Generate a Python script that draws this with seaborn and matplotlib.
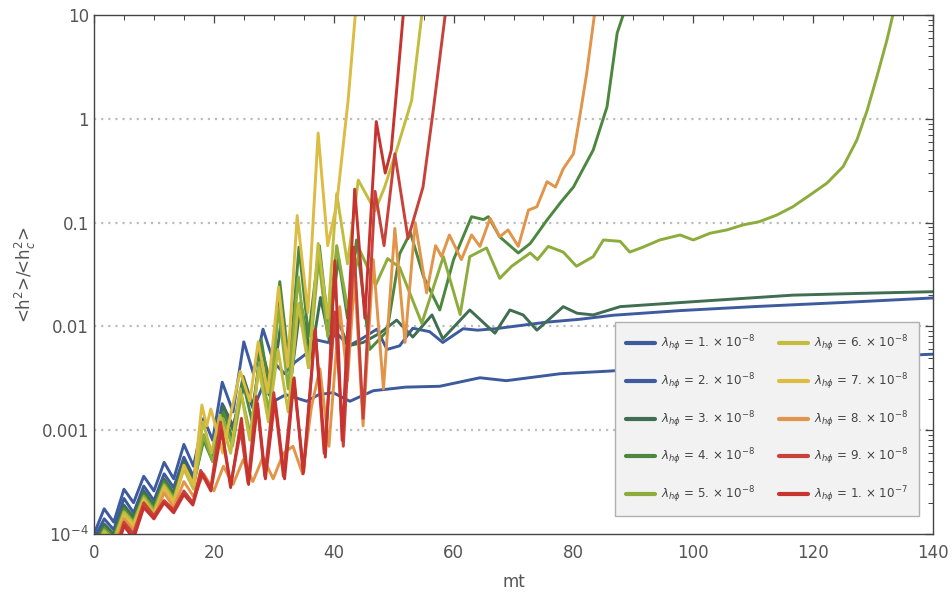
import matplotlib
matplotlib.use("Agg")
import matplotlib.pyplot as plt
import matplotlib.ticker as mticker
import seaborn as sns
import pandas as pd

# ---------------- data ----------------
labels = [r"$\lambda_{h\phi}$ = 1. $\times$ 10$^{-8}$",
          r"$\lambda_{h\phi}$ = 2. $\times$ 10$^{-8}$",
          r"$\lambda_{h\phi}$ = 3. $\times$ 10$^{-8}$",
          r"$\lambda_{h\phi}$ = 4. $\times$ 10$^{-8}$",
          r"$\lambda_{h\phi}$ = 5. $\times$ 10$^{-8}$",
          r"$\lambda_{h\phi}$ = 6. $\times$ 10$^{-8}$",
          r"$\lambda_{h\phi}$ = 7. $\times$ 10$^{-8}$",
          r"$\lambda_{h\phi}$ = 8. $\times$ 10$^{-8}$",
          r"$\lambda_{h\phi}$ = 9. $\times$ 10$^{-8}$",
          r"$\lambda_{h\phi}$ = 1. $\times$ 10$^{-7}$"]

colors = ["#3C5A9C", "#3D5B9E", "#3F6E52", "#4B883D", "#8CAC3B",
          "#C2BD3F", "#DCBC42", "#E29449", "#C8413A", "#C7332E"]

x1 = [0, 1.7, 3.3, 5.0, 6.6, 8.3, 10.0, 11.7, 13.3, 15.0, 16.6, 18.3, 19.8, 21.4, 23.2, 25.0,
      26.6, 28.2, 30.0, 32.0, 35.5, 37.5, 39.9, 42.7, 46.6, 47.7, 52, 57.7, 64.4, 68.8, 77.8,
      85.6, 95, 105, 120, 130, 140]
y1 = [0.9e-4, 1.4e-4, 1.1e-4, 2.2e-4, 1.6e-4, 2.9e-4, 2.1e-4, 3.8e-4, 2.8e-4, 5.5e-4, 3.6e-4,
      9e-4, 6e-4, 1.8e-3, 1.1e-3, 2.6e-3, 1.6e-3, 2.7e-3, 1.9e-3, 2.2e-3, 1.9e-3, 2.2e-3, 2.3e-3,
      1.9e-3, 2.4e-3, 2.44e-3, 2.6e-3, 2.65e-3, 3.2e-3, 3.0e-3, 3.5e-3, 3.7e-3, 4.0e-3, 4.3e-3,
      4.8e-3, 5.1e-3, 5.4e-3]

x2 = [0, 1.7, 3.3, 5.0, 6.6, 8.3, 10.0, 11.7, 13.3, 15.0, 16.6, 18.3, 19.8, 21.4, 23.2, 25.0,
      26.6, 28.2, 30.0, 31.8, 33.5, 35.5, 37.2, 39.0, 40.5, 42.5, 44.5, 47.2, 48.9, 51.0, 53.2,
      56.0, 58.2, 61.6, 64.0, 67.0, 70.0, 75.6, 81.0, 86.6, 97.8, 110, 125, 140]
y2 = [1.0e-4, 1.75e-4, 1.3e-4, 2.7e-4, 2.0e-4, 3.6e-4, 2.6e-4, 4.9e-4, 3.4e-4, 7.3e-4, 4.5e-4,
      1.3e-3, 8e-4, 2.9e-3, 1.5e-3, 7.1e-3, 3.5e-3, 9.4e-3, 4.5e-3, 3.5e-3, 4.5e-3, 5.5e-3,
      7.4e-3, 7.0e-3, 8.6e-3, 6.5e-3, 7.5e-3, 9.4e-3, 6.0e-3, 6.5e-3, 9.6e-3, 8.9e-3, 7.0e-3,
      9.5e-3, 9.2e-3, 9.5e-3, 1.0e-2, 1.1e-2, 1.17e-2, 1.28e-2, 1.42e-2, 1.55e-2, 1.7e-2, 1.88e-2]

x3 = [0, 1.7, 3.3, 5.0, 6.6, 8.3, 10.0, 11.7, 13.3, 15.0, 16.6, 18.3, 19.8, 21.6, 23.2, 24.9,
      26.5, 28.0, 29.7, 31.3, 33.0, 34.5, 36.2, 37.8, 39.4, 40.8, 42.4, 44.9, 47.7, 50.5, 53.2,
      56.4, 58.2, 62.7, 66.9, 69.4, 71.6, 73.9, 78.3, 80.6, 83.3, 87.8, 100, 116.6, 127.8, 140]
y3 = [0.8e-4, 1.25e-4, 1.0e-4, 1.9e-4, 1.45e-4, 2.6e-4, 1.9e-4, 3.4e-4, 2.5e-4, 5.0e-4, 3.2e-4,
      8.5e-4, 5.5e-4, 1.7e-3, 1.0e-3, 3.3e-3, 1.7e-3, 6e-3, 2.5e-3, 1.2e-2, 3.5e-3, 1.7e-2, 5e-3,
      1.9e-2, 6.8e-3, 1.1e-2, 6.5e-3, 7e-3, 8.6e-3, 1.15e-2, 7.9e-3, 1.29e-2, 7.6e-3, 1.44e-2,
      8.6e-3, 1.44e-2, 1.29e-2, 9.2e-3, 1.55e-2, 1.34e-2, 1.29e-2, 1.55e-2, 1.73e-2, 2.0e-2,
      2.08e-2, 2.16e-2]

x4 = [0, 1.7, 3.3, 5.0, 6.6, 8.3, 10.0, 11.7, 13.3, 15.0, 16.6, 18.3, 19.8, 21.6, 23.2, 24.8,
      26.4, 27.9, 29.5, 31.0, 32.6, 34.2, 35.8, 37.6, 39.2, 40.8, 42.3, 43.8, 46.0, 48.9, 51.0,
      52.8, 55.0, 57.7, 60.0, 63.0, 65.0, 65.8, 67.7, 70.8, 72.8, 75.6, 78.0, 80.0, 83.3, 85.6,
      87.3, 88.3]
y4 = [0.75e-4, 1.15e-4, 0.95e-4, 1.75e-4, 1.35e-4, 2.4e-4, 1.8e-4, 3.2e-4, 2.3e-4, 4.6e-4,
      3.0e-4, 8e-4, 5e-4, 1.5e-3, 8e-4, 3e-3, 1.2e-3, 7.5e-3, 2e-3, 2.7e-2, 4e-3, 5.8e-2, 8e-3,
      6e-2, 9e-3, 4.5e-2, 1.2e-2, 6.8e-2, 6e-3, 9e-3, 5e-2, 8e-2, 3e-2, 1.44e-2, 4.4e-2,
      1.14e-1, 1.07e-1, 1.14e-1, 7.3e-2, 5.1e-2, 6.3e-2, 1.06e-1, 1.6e-1, 2.2e-1, 5e-1, 1.3,
      6.7, 10]

x5 = [0, 1.7, 3.3, 5.0, 6.6, 8.3, 10.0, 11.7, 13.3, 15.0, 16.6, 18.3, 19.8, 21.5, 23.1, 24.6,
      26.1, 27.6, 29.2, 30.8, 32.4, 34.1, 35.8, 37.5, 39.0, 40.5, 42.3, 44.3, 47.0, 49.0, 51.0,
      54.7, 58.3, 61.1, 62.7, 65.5, 67.7, 69.7, 72.8, 74.0, 75.8, 78.3, 80.5, 83.3, 85.0, 87.8,
      89.4, 91.6, 94.4, 97.8, 100, 102.8, 105.6, 108.3, 111, 113.9, 116.6, 119.5, 122.3, 125,
      127.3, 129, 130.6, 132.3, 133.3]
y5 = [0.7e-4, 1.1e-4, 0.9e-4, 1.65e-4, 1.3e-4, 2.3e-4, 1.7e-4, 3.0e-4, 2.2e-4, 4.4e-4, 2.9e-4,
      9e-4, 5e-4, 1.3e-3, 7e-4, 2.2e-3, 9e-4, 4.5e-3, 1.5e-3, 1.5e-2, 2.5e-3, 3e-2, 4e-3,
      4.5e-2, 8e-3, 6e-2, 1.5e-2, 5.5e-2, 2.5e-2, 4.5e-2, 3.7e-2, 1.07e-2, 4.7e-2, 1.3e-2,
      4.7e-2, 5.7e-2, 2.9e-2, 3.8e-2, 5.1e-2, 4.4e-2, 5.9e-2, 5.2e-2, 3.8e-2, 4.7e-2, 6.8e-2,
      6.6e-2, 5.2e-2, 5.8e-2, 6.8e-2, 7.6e-2, 6.8e-2, 7.9e-2, 8.5e-2, 9.5e-2, 1.02e-1, 1.18e-1,
      1.42e-1, 1.85e-1, 2.4e-1, 3.46e-1, 6.25e-1, 1.2, 2.5, 5.7, 10]

x6 = [0, 1.7, 3.3, 5.0, 6.6, 8.3, 10.0, 11.7, 13.3, 15.0, 16.6, 18.2, 19.6, 21.0, 22.8, 24.4,
      26.0, 27.5, 29.1, 30.7, 32.4, 34.1, 35.8, 37.4, 39.0, 40.5, 42.3, 44.1, 46.9, 48.5, 50.5,
      53.0, 54.7]
y6 = [0.65e-4, 1.05e-4, 0.85e-4, 1.6e-4, 1.25e-4, 2.2e-4, 1.6e-4, 2.9e-4, 2.1e-4, 4.2e-4,
      2.7e-4, 1.2e-3, 6e-4, 1.4e-3, 6e-4, 2.5e-3, 8e-4, 4e-3, 1.2e-3, 6e-3, 1.5e-3, 1.66e-2,
      4e-3, 6.3e-2, 1.2e-2, 1.9e-1, 4e-2, 2.57e-1, 1.3e-1, 2.2e-1, 5e-1, 1.5, 10]

x7 = [0, 1.7, 3.3, 5.0, 6.6, 8.3, 10.0, 11.7, 13.3, 15.0, 16.6, 18.0, 18.8, 19.5, 21.5, 22.9,
      24.4, 26.0, 27.4, 29.0, 30.8, 32.3, 33.9, 35.7, 37.4, 39.0, 40.5, 42.4, 43.6]
y7 = [0.6e-4, 1.0e-4, 0.8e-4, 1.5e-4, 1.2e-4, 2.1e-4, 1.5e-4, 2.8e-4, 2.0e-4, 4.6e-4, 3.0e-4,
      1.75e-3, 1.1e-3, 1.6e-3, 6e-4, 1.5e-3, 3.7e-3, 1.9e-3, 7.1e-3, 2.3e-3, 2.4e-2, 4.1e-3,
      1.17e-1, 1.36e-2, 7.3e-1, 6e-2, 1.5e-1, 1.5, 10]

x8 = [0, 1.7, 3.3, 5.0, 6.6, 8.3, 10.0, 11.7, 13.3, 15.0, 16.6, 18.3, 20.0, 21.6, 23.2, 24.9,
      26.5, 28.2, 29.9, 31.6, 33.2, 34.8, 36.3, 37.7, 39.2, 41.0, 42.3, 43.5, 44.9, 46.6, 48.3,
      50.2, 51.9, 53.6, 55.5, 57.0, 58.0, 59.3, 61.3, 63.0, 64.4, 66.1, 67.7, 69.1, 70.8, 72.5,
      73.9, 75.6, 77.0, 78.3, 80.0, 81.0, 82.2, 83.5]
y8 = [0.55e-4, 0.95e-4, 0.75e-4, 1.4e-4, 1.1e-4, 1.9e-4, 1.4e-4, 2.5e-4, 1.8e-4, 3.2e-4,
      2.3e-4, 3.8e-4, 2.6e-4, 4.5e-4, 3.0e-4, 5.2e-4, 3.2e-4, 5.5e-4, 3.4e-4, 6e-4, 7e-4,
      3.8e-4, 1.7e-3, 3.9e-3, 7e-4, 1.55e-2, 3e-3, 3e-2, 1.1e-3, 4.4e-2, 2.5e-3, 8.8e-2, 7e-3,
      1.0e-1, 2.1e-2, 6e-2, 4.7e-2, 7.6e-2, 4.4e-2, 7.6e-2, 5.9e-2, 1.1e-1, 7.3e-2, 8.5e-2,
      5.9e-2, 1.32e-1, 1.42e-1, 2.48e-1, 2.2e-1, 3.3e-1, 4.6e-1, 1.0, 2.7, 10]

x9 = [0, 1.7, 3.3, 5.0, 6.6, 8.3, 10.0, 11.7, 13.3, 15.0, 16.5, 17.8, 19.5, 21.1, 22.8, 24.5,
      25.7, 27.1, 28.5, 30.0, 31.6, 33.3, 35.0, 36.9, 38.4, 40.2, 41.6, 43.4, 44.9, 46.9, 48.4,
      50.2, 52.4, 54.9, 56.6, 58.6]
y9 = [0.45e-4, 0.8e-4, 0.6e-4, 1.3e-4, 1.0e-4, 2.0e-4, 1.5e-4, 2.1e-4, 1.7e-4, 2.6e-4, 2.0e-4,
      4.1e-4, 2.8e-4, 1.2e-3, 3e-4, 1.0e-3, 3.1e-4, 2.1e-3, 3.6e-4, 2.3e-3, 3.6e-4, 3.1e-3,
      4e-4, 9.3e-3, 6e-4, 1.38e-2, 7e-4, 5.8e-2, 1.3e-3, 2e-1, 6e-2, 4.6e-1, 7e-2, 2.2e-1, 1.2,
      10]

x10 = [0, 1.7, 3.3, 5.0, 6.6, 8.3, 10.0, 11.7, 13.3, 15.0, 16.5, 18.0, 19.5, 21.3, 22.8, 24.6,
       25.8, 27.3, 28.6, 30.2, 31.8, 33.4, 34.9, 36.9, 38.6, 40.2, 41.4, 43.5, 45.2, 47.1, 48.6,
       49.6, 50.6, 51.6]
y10 = [0.4e-4, 0.75e-4, 0.55e-4, 1.2e-4, 0.9e-4, 1.8e-4, 1.4e-4, 2.0e-4, 1.6e-4, 2.4e-4,
       1.9e-4, 3.8e-4, 2.6e-4, 1.0e-3, 2.8e-4, 1.3e-3, 3.0e-4, 1.8e-3, 3.4e-4, 2.0e-3, 3.4e-4,
       3.2e-3, 3.8e-4, 9.3e-3, 5.5e-4, 4.3e-2, 8e-4, 2.1e-1, 1.2e-2, 9.4e-1, 3.0e-1, 5e-1, 2.2,
       10]

xs = [x1, x2, x3, x4, x5, x6, x7, x8, x9, x10]
ys = [y1, y2, y3, y4, y5, y6, y7, y8, y9, y10]

xticks = [0, 20, 40, 60, 80, 100, 120, 140]
yticks = [1e-4, 1e-3, 1e-2, 1e-1, 1, 10]
yticklabels = ["10$^{-4}$", "0.001", "0.01", "0.1", "1", "10"]

# ---------------- plotting ----------------
sns.set_theme(style="white")
plt.rcParams["font.family"] = ["DejaVu Sans"]
plt.rcParams["mathtext.fontset"] = "dejavusans"

fig = plt.figure(figsize=(9.52, 5.93), dpi=100)
ax = fig.add_axes([94 / 952, 59 / 593, 839 / 952, 519 / 593])

for xv, yv, c, lab in zip(xs, ys, colors, labels):
    df = pd.DataFrame({"mt": xv, "ratio": yv})
    sns.lineplot(data=df, x="mt", y="ratio", color=c, lw=2.1, ax=ax, label=lab,
                 estimator=None)

ax.set_yscale("log")
ax.set_xlim(0, 140)
ax.set_ylim(1e-4, 10)

for g in [1e-3, 1e-2, 1e-1, 1]:
    ax.axhline(g, color="#BDBDBD", lw=1.6, ls=(0, (1, 2.2)), zorder=0)

ax.set_xticks(xticks)
ax.set_xticklabels([str(t) for t in xticks])
ax.xaxis.set_minor_locator(mticker.MultipleLocator(5))
ax.set_yticks(yticks)
ax.set_yticklabels(yticklabels)
ax.yaxis.set_minor_locator(mticker.LogLocator(base=10, subs=range(2, 10)))
ax.yaxis.set_minor_formatter(mticker.NullFormatter())

ax.tick_params(which="both", direction="in", top=True, right=True, colors="#444444",
               labelcolor="#555555", labelsize=12)
ax.tick_params(which="major", length=6, width=0.9)
ax.tick_params(which="minor", length=3.5, width=0.7)
ax.tick_params(axis="x", pad=7)
for s in ax.spines.values():
    s.set_color("#444444")
    s.set_linewidth(1.0)

ax.set_xlabel("mt", fontsize=12, color="#555555", labelpad=8)
ax.set_ylabel("<h$^2$>/<h$_c^2$>", fontsize=12, color="#555555", labelpad=3)

leg = ax.legend(loc="lower left", bbox_to_anchor=(0.614, 0.023, 0.376, 0.328),
                mode="expand", ncol=2, fontsize=8.6, frameon=True, fancybox=False,
                handlelength=2.4, labelspacing=1.45, borderpad=0.9, columnspacing=0.9,
                handletextpad=0.5)
leg.get_frame().set_facecolor("#F2F2F2")
leg.get_frame().set_edgecolor("#B0B0B0")
leg.get_frame().set_alpha(1)
for t in leg.get_texts():
    t.set_color("#444444")
for h in leg.get_lines():
    h.set_linewidth(3)

fig.savefig("out.png", dpi=100)
